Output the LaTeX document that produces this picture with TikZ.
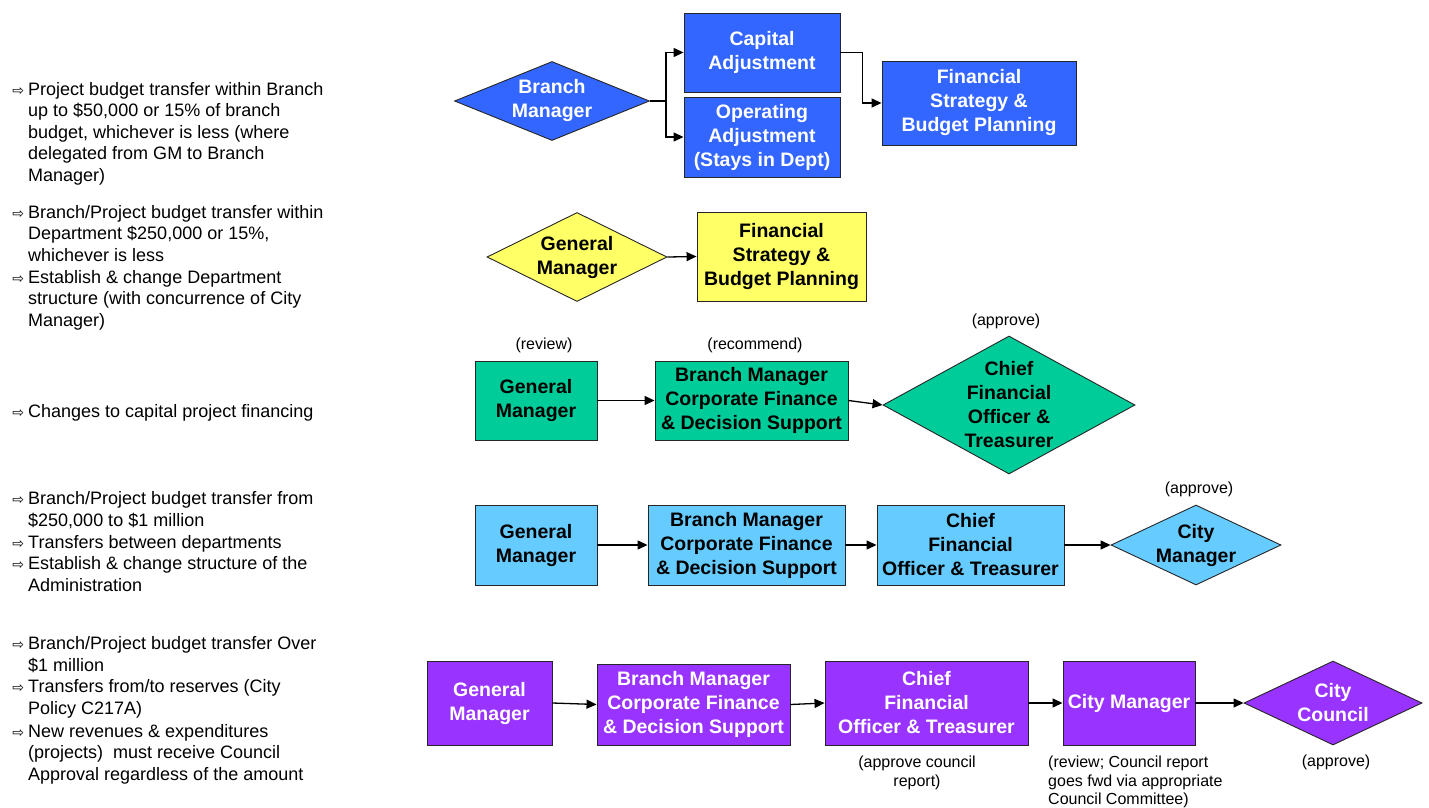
\documentclass[tikz,border=0pt]{standalone}
\usepackage{fontspec}
\setmainfont{Liberation Sans}
\newfontfamily\symfont{DejaVu Sans}
\usetikzlibrary{shapes.geometric,arrows.meta}

\definecolor{azul}{HTML}{3366FF}
\definecolor{amarillo}{HTML}{FFFF66}
\definecolor{verde}{HTML}{00CC99}
\definecolor{celeste}{HTML}{66CCFF}
\definecolor{morado}{HTML}{9933FF}
\newcommand{\flechita}{\llap{{\symfont\fontsize{14pt}{14pt}\selectfont ⇨}\hspace{4pt}}}

\begin{document}
\begin{tikzpicture}[x=1pt, y=-1pt,
    caja/.style={draw=black!85, line width=0.9pt, align=center, inner sep=1pt,
                 font=\bfseries\fontsize{19.5pt}{24pt}\selectfont},
    rombo/.style={caja, diamond, inner sep=0pt},
    nota/.style={align=center, inner sep=0pt, font=\fontsize{16pt}{18.5pt}\selectfont},
    regla/.style={align=left, anchor=base west, inner sep=0pt, font=\fontsize{18pt}{21.5pt}\selectfont},
    flecha/.style={-{Triangle[length=10pt,width=9pt]}, line width=1.3pt}
]
\useasboundingbox (0,0) rectangle (1429,808);

% criterios a la izquierda (base = ultima linea)
\node[regla] (t1) at (28,181) {\flechita Project budget transfer within Branch\\up to \$50,000 or 15\% of branch\\budget, whichever is less (where\\delegated from GM to Branch\\Manager)};
\node[regla] (t2) at (28,261) {\flechita Branch/Project budget transfer within\\Department \$250,000 or 15\%,\\whichever is less};
\node[regla] (t3) at (28,326) {\flechita Establish \& change Department\\structure (with concurrence of City\\Manager)};
\node[regla] (t4) at (28,417) {\flechita Changes to capital project financing};
\node[regla] (t5) at (28,526) {\flechita Branch/Project budget transfer from\\\$250,000 to \$1 million};
\node[regla] (t6) at (28,548) {\flechita Transfers between departments};
\node[regla] (t7) at (28,591) {\flechita Establish \& change structure of the\\Administration};
\node[regla] (t8) at (28,671) {\flechita Branch/Project budget transfer Over\\\$1 million};
\node[regla] (t9) at (28,714) {\flechita Transfers from/to reserves (City\\Policy C217A)};
\node[regla] (t10) at (28,780) {\flechita New revenues \& expenditures\\(projects)\ \ must receive Council\\Approval regardless of the amount};

% fila 1
\node[rombo, fill=azul, text=white, aspect=2.47, minimum width=195pt, minimum height=79pt] (bm1) at (552,101) {Branch\\Manager};
\node[caja, fill=azul, text=white, minimum width=156pt, minimum height=79pt] (cap1) at (762,52.5) {Capital\\Adjustment};
\node[caja, fill=azul, text=white, minimum width=156pt, minimum height=80pt] (opr1) at (762,137) {Operating\\Adjustment\\(Stays in Dept)};
\node[caja, fill=azul, text=white, minimum width=194pt, minimum height=84pt] (fsp1) at (979,103) {Financial\\Strategy \&\\Budget Planning};
\coordinate (split1) at (666,101);
\draw[line width=1.3pt] (bm1.east) -- (split1);
\draw[flecha] (split1) |- (cap1.west);
\draw[flecha] (split1) |- (opr1.west);
\draw[flecha] (cap1.east) -- ++(22,0) |- (fsp1.west);

% fila 2
\node[rombo, fill=amarillo, aspect=2.02, minimum width=180pt, minimum height=89pt] (gm2) at (577,257) {General\\Manager};
\node[caja, fill=amarillo, minimum width=169pt, minimum height=89pt] (fsp2) at (781.5,256.5) {Financial\\Strategy \&\\Budget Planning};
\draw[flecha] (gm2.east) -- (fsp2.west);

% fila 3
\node[caja, fill=verde, minimum width=122pt, minimum height=79pt] (gm3) at (536,400.5) {General\\Manager};
\node[caja, fill=verde, minimum width=193pt, minimum height=79pt] (bmc3) at (751.5,400.5) {Branch Manager\\Corporate Finance\\\& Decision Support};
\node[rombo, fill=verde, aspect=1.83, minimum width=252pt, minimum height=138pt] (cfo3) at (1009,405) {Chief\\Financial\\Officer \&\\Treasurer};
\node[nota] (rev3) at (544,345) {(review)};
\node[nota] (rec3) at (755,345) {(recommend)};
\node[nota] (apr3) at (1006,321) {(approve)};
\draw[flecha] (gm3.east) -- (bmc3.west);
\draw[flecha] (bmc3.east) -- (cfo3.west);

% fila 4
\node[caja, fill=celeste, minimum width=122pt, minimum height=80pt] (gm4) at (536,545) {General\\Manager};
\node[caja, fill=celeste, minimum width=197pt, minimum height=80pt] (bmc4) at (746.5,545) {Branch Manager\\Corporate Finance\\\& Decision Support};
\node[caja, fill=celeste, minimum width=187pt, minimum height=80pt] (cfo4) at (970.5,545) {Chief\\Financial\\Officer \& Treasurer};
\node[rombo, fill=celeste, aspect=2.125, minimum width=170pt, minimum height=80pt] (cm4) at (1196,545) {City\\Manager};
\node[nota] (apr4) at (1199,489) {(approve)};
\draw[flecha] (gm4.east) -- (bmc4.west);
\draw[flecha] (bmc4.east) -- (cfo4.west);
\draw[flecha] (cfo4.east) -- (cm4.west);

% fila 5
\node[caja, fill=morado, text=white, minimum width=125pt, minimum height=84pt] (gm5) at (489.5,703) {General\\Manager};
\node[caja, fill=morado, text=white, minimum width=193pt, minimum height=81pt] (bmc5) at (693.5,704.5) {Branch Manager\\Corporate Finance\\\& Decision Support};
\node[caja, fill=morado, text=white, minimum width=203pt, minimum height=84pt] (cfo5) at (926.5,703) {Chief\\Financial\\Officer \& Treasurer};
\node[caja, fill=morado, text=white, minimum width=132pt, minimum height=84pt] (cm5) at (1129,703) {City Manager};
\node[rombo, fill=morado, text=white, aspect=2.12, minimum width=178pt, minimum height=84pt] (cc5) at (1333,703) {City\\Council};
\node[nota] (ac5) at (917,773) {(approve council\\report)};
\node[nota, align=left, anchor=west] (rv5) at (1048,782) {(review; Council report\\goes fwd via appropriate\\Council Committee)};
\node[nota] (ap5) at (1336,762) {(approve)};
\draw[flecha] (gm5.east) -- (bmc5.west);
\draw[flecha] (bmc5.east) -- (cfo5.west);
\draw[flecha] (cfo5.east) -- (cm5.west);
\draw[flecha] (cm5.east) -- (cc5.west);
\end{tikzpicture}
\end{document}
